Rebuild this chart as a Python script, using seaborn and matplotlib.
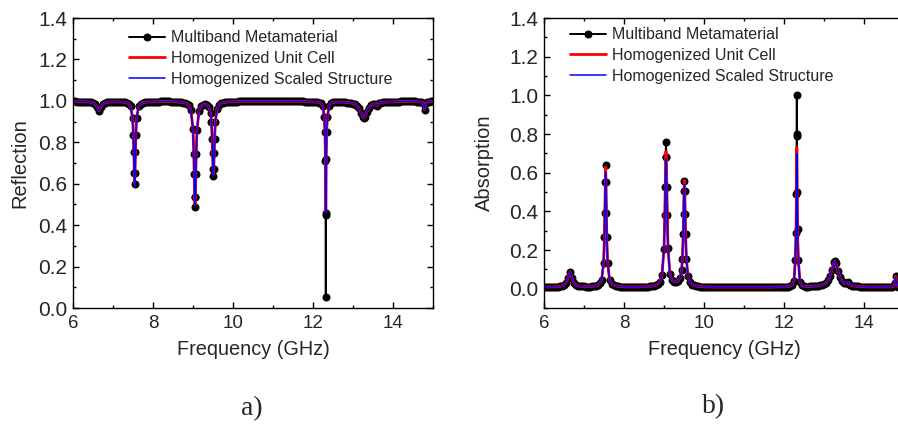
import matplotlib
matplotlib.use("Agg")
import matplotlib.pyplot as plt
from matplotlib.ticker import MultipleLocator
import seaborn as sns

# frequency samples (GHz), denser around the resonances
freq = [6.0, 6.05, 6.1, 6.15, 6.2, 6.25, 6.3, 6.35, 6.4, 6.45,
        6.5, 6.55, 6.6, 6.65, 6.7, 6.75, 6.8,
        6.85, 6.9, 6.95, 7.0, 7.05, 7.1, 7.15, 7.2, 7.25, 7.3, 7.35, 7.4, 7.44,
        7.49, 7.51, 7.52, 7.53, 7.54, 7.55, 7.56, 7.57, 7.59, 7.64,
        7.7, 7.75, 7.8, 7.85, 7.9, 7.95, 8.0, 8.05, 8.1, 8.15, 8.2, 8.25, 8.3,
        8.35, 8.4, 8.45, 8.5, 8.55, 8.6, 8.65, 8.7, 8.75, 8.8, 8.85, 8.9, 8.95,
        9.0, 9.02, 9.03, 9.04, 9.05, 9.06, 9.07, 9.08, 9.1,
        9.15, 9.2, 9.25, 9.3, 9.35, 9.4, 9.44,
        9.46, 9.48, 9.49, 9.5, 9.51, 9.52, 9.53, 9.54, 9.56,
        9.6, 9.65, 9.7, 9.75, 9.8, 9.85, 9.9, 9.95, 10.0,
        10.05, 10.1, 10.15, 10.2, 10.25, 10.3, 10.35, 10.4, 10.45, 10.5,
        10.55, 10.6, 10.65, 10.7, 10.75, 10.8, 10.85, 10.9, 10.95, 11.0,
        11.05, 11.1, 11.15, 11.2, 11.25, 11.3, 11.35, 11.4, 11.45, 11.5,
        11.55, 11.6, 11.65, 11.7, 11.75, 11.8, 11.85, 11.9, 11.95, 12.0,
        12.05, 12.1, 12.15, 12.2, 12.25,
        12.28, 12.3, 12.31, 12.315, 12.32, 12.325, 12.33, 12.34, 12.36,
        12.4, 12.45, 12.5, 12.55, 12.6, 12.65, 12.7, 12.75, 12.8, 12.85, 12.9, 12.95, 13.0,
        13.05, 13.1, 13.15, 13.2, 13.25, 13.27, 13.3, 13.35, 13.4, 13.45, 13.5, 13.55,
        13.58, 13.6, 13.62, 13.65, 13.7,
        13.75, 13.8, 13.85, 13.9, 13.95, 14.0, 14.05, 14.1, 14.15, 14.2,
        14.25, 14.3, 14.35, 14.4, 14.45, 14.5, 14.55, 14.6, 14.65, 14.7,
        14.75, 14.77, 14.79, 14.81, 14.85, 14.9, 14.95, 15.0]

# a) reflection
refl_meta = [0.997, 0.997, 0.996, 0.996, 0.996, 0.996, 0.996, 0.995, 0.995, 0.993,
             0.991, 0.985, 0.970, 0.952, 0.970, 0.985, 0.991,
             0.993, 0.994, 0.995, 0.995, 0.995, 0.995, 0.995, 0.994, 0.994, 0.993, 0.990, 0.985, 0.973,
             0.917, 0.833, 0.753, 0.652, 0.597, 0.652, 0.753, 0.833, 0.917, 0.973,
             0.987, 0.991, 0.993, 0.994, 0.995, 0.995, 0.996, 0.996, 0.996, 0.996, 0.997, 0.997, 0.997,
             0.997, 0.997, 0.996, 0.996, 0.996, 0.995, 0.994, 0.993, 0.992, 0.990, 0.986, 0.978, 0.955,
             0.862, 0.742, 0.645, 0.538, 0.487, 0.538, 0.645, 0.742, 0.860,
             0.952, 0.975, 0.981, 0.983, 0.980, 0.968, 0.940,
             0.900, 0.817, 0.749, 0.673, 0.637, 0.673, 0.749, 0.817, 0.900,
             0.961, 0.981, 0.988, 0.991, 0.993, 0.994, 0.995, 0.996, 0.996,
             0.996, 0.996, 0.997, 0.997, 0.997, 0.997, 0.997, 0.997, 0.997, 0.997,
             0.997, 0.997, 0.997, 0.997, 0.997, 0.997, 0.997, 0.997, 0.997, 0.997,
             0.997, 0.997, 0.997, 0.997, 0.997, 0.997, 0.997, 0.997, 0.997, 0.997,
             0.997, 0.997, 0.997, 0.997, 0.997, 0.996, 0.996, 0.996, 0.995, 0.995,
             0.995, 0.994, 0.992, 0.988, 0.973,
             0.920, 0.850, 0.710, 0.450, 0.055, 0.460, 0.720, 0.850, 0.920,
             0.977, 0.989, 0.993, 0.994, 0.994, 0.994, 0.994, 0.994, 0.993, 0.992, 0.991, 0.990, 0.987,
             0.983, 0.976, 0.964, 0.943, 0.920, 0.917, 0.924, 0.948, 0.967, 0.978, 0.984, 0.985,
             0.982, 0.975, 0.983, 0.990, 0.992,
             0.993, 0.994, 0.994, 0.995, 0.995, 0.995, 0.996, 0.996, 0.996, 0.997,
             0.997, 0.997, 0.997, 0.997, 0.997, 0.997, 0.997, 0.996, 0.996, 0.995,
             0.992, 0.983, 0.957, 0.983, 0.995, 0.996, 0.997, 0.997]

refl_cell = [0.997, 0.997, 0.996, 0.996, 0.996, 0.996, 0.996, 0.995, 0.995, 0.993,
             0.991, 0.985, 0.970, 0.952, 0.970, 0.985, 0.991,
             0.993, 0.994, 0.995, 0.995, 0.995, 0.995, 0.995, 0.994, 0.994, 0.993, 0.990, 0.985, 0.973,
             0.917, 0.833, 0.753, 0.655, 0.600, 0.655, 0.753, 0.833, 0.917, 0.973,
             0.987, 0.991, 0.993, 0.994, 0.995, 0.995, 0.996, 0.996, 0.996, 0.996, 0.997, 0.997, 0.997,
             0.997, 0.997, 0.996, 0.996, 0.996, 0.995, 0.994, 0.993, 0.992, 0.990, 0.986, 0.978, 0.955,
             0.862, 0.742, 0.645, 0.545, 0.500, 0.545, 0.645, 0.742, 0.860,
             0.952, 0.975, 0.981, 0.983, 0.980, 0.968, 0.940,
             0.900, 0.817, 0.749, 0.675, 0.645, 0.675, 0.749, 0.817, 0.900,
             0.961, 0.981, 0.988, 0.991, 0.993, 0.994, 0.995, 0.996, 0.996,
             0.996, 0.996, 0.997, 0.997, 0.997, 0.997, 0.997, 0.997, 0.997, 0.997,
             0.997, 0.997, 0.997, 0.997, 0.997, 0.997, 0.997, 0.997, 0.997, 0.997,
             0.997, 0.997, 0.997, 0.997, 0.997, 0.997, 0.997, 0.997, 0.997, 0.997,
             0.997, 0.997, 0.997, 0.997, 0.997, 0.996, 0.996, 0.996, 0.995, 0.995,
             0.995, 0.994, 0.992, 0.988, 0.973,
             0.920, 0.850, 0.720, 0.580, 0.465, 0.580, 0.720, 0.850, 0.920,
             0.977, 0.989, 0.993, 0.994, 0.994, 0.994, 0.994, 0.994, 0.993, 0.992, 0.991, 0.990, 0.987,
             0.983, 0.976, 0.964, 0.943, 0.920, 0.917, 0.924, 0.948, 0.967, 0.978, 0.984, 0.985,
             0.982, 0.975, 0.983, 0.990, 0.992,
             0.993, 0.994, 0.994, 0.995, 0.995, 0.995, 0.996, 0.996, 0.996, 0.997,
             0.997, 0.997, 0.997, 0.997, 0.997, 0.997, 0.997, 0.996, 0.996, 0.995,
             0.992, 0.983, 0.957, 0.983, 0.995, 0.996, 0.997, 0.997]

refl_scaled = [0.997, 0.997, 0.996, 0.996, 0.996, 0.996, 0.996, 0.995, 0.995, 0.993,
               0.991, 0.985, 0.970, 0.952, 0.970, 0.985, 0.991,
               0.993, 0.994, 0.995, 0.995, 0.995, 0.995, 0.995, 0.994, 0.994, 0.993, 0.990, 0.985, 0.973,
               0.917, 0.833, 0.753, 0.645, 0.585, 0.645, 0.753, 0.833, 0.917, 0.973,
               0.987, 0.991, 0.993, 0.994, 0.995, 0.995, 0.996, 0.996, 0.996, 0.996, 0.997, 0.997, 0.997,
               0.997, 0.997, 0.996, 0.996, 0.996, 0.995, 0.994, 0.993, 0.992, 0.990, 0.986, 0.978, 0.955,
               0.862, 0.742, 0.645, 0.545, 0.500, 0.545, 0.645, 0.742, 0.860,
               0.952, 0.975, 0.981, 0.983, 0.980, 0.968, 0.940,
               0.900, 0.817, 0.749, 0.670, 0.635, 0.670, 0.749, 0.817, 0.900,
               0.961, 0.981, 0.988, 0.991, 0.993, 0.994, 0.995, 0.996, 0.996,
               0.996, 0.996, 0.997, 0.997, 0.997, 0.997, 0.997, 0.997, 0.997, 0.997,
               0.997, 0.997, 0.997, 0.997, 0.997, 0.997, 0.997, 0.997, 0.997, 0.997,
               0.997, 0.997, 0.997, 0.997, 0.997, 0.997, 0.997, 0.997, 0.997, 0.997,
               0.997, 0.997, 0.997, 0.997, 0.997, 0.996, 0.996, 0.996, 0.995, 0.995,
               0.995, 0.994, 0.992, 0.988, 0.973,
               0.920, 0.850, 0.720, 0.575, 0.460, 0.575, 0.720, 0.850, 0.920,
               0.977, 0.989, 0.993, 0.994, 0.994, 0.994, 0.994, 0.994, 0.993, 0.992, 0.991, 0.990, 0.987,
               0.983, 0.976, 0.964, 0.943, 0.920, 0.917, 0.924, 0.948, 0.967, 0.978, 0.984, 0.985,
               0.982, 0.975, 0.983, 0.990, 0.992,
               0.993, 0.994, 0.994, 0.995, 0.995, 0.995, 0.996, 0.996, 0.996, 0.997,
               0.997, 0.997, 0.997, 0.997, 0.997, 0.997, 0.997, 0.996, 0.996, 0.995,
               0.992, 0.983, 0.955, 0.983, 0.995, 0.996, 0.997, 0.997]

# b) absorption
abs_meta = [0.009, 0.009, 0.009, 0.009, 0.009, 0.010, 0.010, 0.011, 0.012, 0.015,
            0.019, 0.029, 0.055, 0.088, 0.055, 0.029, 0.019,
            0.015, 0.013, 0.012, 0.012, 0.011, 0.011, 0.011, 0.012, 0.013, 0.015, 0.019, 0.028, 0.045,
            0.134, 0.266, 0.392, 0.551, 0.638, 0.551, 0.392, 0.266, 0.134, 0.045,
            0.023, 0.017, 0.014, 0.012, 0.011, 0.010, 0.010, 0.009, 0.009, 0.009, 0.009, 0.009, 0.009,
            0.009, 0.010, 0.010, 0.010, 0.010, 0.011, 0.012, 0.014, 0.015, 0.019, 0.025, 0.037, 0.070,
            0.207, 0.383, 0.526, 0.683, 0.758, 0.683, 0.526, 0.383, 0.210,
            0.074, 0.045, 0.036, 0.035, 0.039, 0.055, 0.097,
            0.154, 0.283, 0.388, 0.503, 0.558, 0.503, 0.388, 0.283, 0.154,
            0.063, 0.032, 0.021, 0.017, 0.014, 0.012, 0.011, 0.010, 0.010,
            0.009, 0.009, 0.009, 0.009, 0.008, 0.008, 0.008, 0.008, 0.008, 0.008,
            0.008, 0.008, 0.008, 0.008, 0.008, 0.008, 0.008, 0.008, 0.008, 0.008,
            0.008, 0.008, 0.008, 0.008, 0.008, 0.008, 0.008, 0.008, 0.008, 0.008,
            0.008, 0.008, 0.008, 0.008, 0.009, 0.009, 0.009, 0.009, 0.010, 0.010,
            0.010, 0.011, 0.014, 0.019, 0.040,
            0.150, 0.290, 0.490, 0.800, 1.000, 0.790, 0.500, 0.310, 0.150,
            0.032, 0.017, 0.013, 0.011, 0.011, 0.012, 0.012, 0.013, 0.014, 0.015, 0.017, 0.020, 0.024,
            0.031, 0.043, 0.063, 0.099, 0.138, 0.143, 0.132, 0.090, 0.058, 0.040, 0.029, 0.027,
            0.028, 0.034, 0.026, 0.019, 0.016,
            0.014, 0.012, 0.012, 0.011, 0.011, 0.010, 0.010, 0.010, 0.009, 0.009,
            0.009, 0.009, 0.009, 0.009, 0.009, 0.009, 0.009, 0.009, 0.009, 0.009,
            0.015, 0.028, 0.063, 0.028, 0.011, 0.010, 0.009, 0.009]

abs_cell = [0.009, 0.009, 0.009, 0.009, 0.009, 0.010, 0.010, 0.011, 0.012, 0.015,
            0.019, 0.029, 0.055, 0.088, 0.055, 0.029, 0.019,
            0.015, 0.013, 0.012, 0.012, 0.011, 0.011, 0.011, 0.012, 0.013, 0.015, 0.019, 0.028, 0.045,
            0.134, 0.266, 0.392, 0.545, 0.630, 0.545, 0.392, 0.266, 0.134, 0.045,
            0.023, 0.017, 0.014, 0.012, 0.011, 0.010, 0.010, 0.009, 0.009, 0.009, 0.009, 0.009, 0.009,
            0.009, 0.010, 0.010, 0.010, 0.010, 0.011, 0.012, 0.014, 0.015, 0.019, 0.025, 0.037, 0.070,
            0.207, 0.383, 0.526, 0.640, 0.710, 0.640, 0.526, 0.383, 0.210,
            0.074, 0.045, 0.036, 0.035, 0.039, 0.055, 0.097,
            0.154, 0.283, 0.388, 0.500, 0.560, 0.500, 0.388, 0.283, 0.154,
            0.063, 0.032, 0.021, 0.017, 0.014, 0.012, 0.011, 0.010, 0.010,
            0.009, 0.009, 0.009, 0.009, 0.008, 0.008, 0.008, 0.008, 0.008, 0.008,
            0.008, 0.008, 0.008, 0.008, 0.008, 0.008, 0.008, 0.008, 0.008, 0.008,
            0.008, 0.008, 0.008, 0.008, 0.008, 0.008, 0.008, 0.008, 0.008, 0.008,
            0.008, 0.008, 0.008, 0.008, 0.009, 0.009, 0.009, 0.009, 0.010, 0.010,
            0.010, 0.011, 0.014, 0.019, 0.040,
            0.140, 0.280, 0.470, 0.620, 0.730, 0.620, 0.470, 0.280, 0.140,
            0.032, 0.017, 0.013, 0.011, 0.011, 0.012, 0.012, 0.013, 0.014, 0.015, 0.017, 0.020, 0.024,
            0.031, 0.043, 0.063, 0.099, 0.138, 0.143, 0.132, 0.090, 0.058, 0.040, 0.029, 0.027,
            0.028, 0.034, 0.026, 0.019, 0.016,
            0.014, 0.012, 0.012, 0.011, 0.011, 0.010, 0.010, 0.010, 0.009, 0.009,
            0.009, 0.009, 0.009, 0.009, 0.009, 0.009, 0.009, 0.009, 0.009, 0.009,
            0.015, 0.028, 0.063, 0.028, 0.011, 0.010, 0.009, 0.009]

abs_scaled = [0.009, 0.009, 0.009, 0.009, 0.009, 0.010, 0.010, 0.011, 0.012, 0.015,
              0.019, 0.029, 0.055, 0.088, 0.055, 0.029, 0.019,
              0.015, 0.013, 0.012, 0.012, 0.011, 0.011, 0.011, 0.012, 0.013, 0.015, 0.019, 0.028, 0.045,
              0.134, 0.266, 0.392, 0.530, 0.600, 0.530, 0.392, 0.266, 0.134, 0.045,
              0.023, 0.017, 0.014, 0.012, 0.011, 0.010, 0.010, 0.009, 0.009, 0.009, 0.009, 0.009, 0.009,
              0.009, 0.010, 0.010, 0.010, 0.010, 0.011, 0.012, 0.014, 0.015, 0.019, 0.025, 0.037, 0.070,
              0.207, 0.383, 0.526, 0.610, 0.670, 0.610, 0.526, 0.383, 0.210,
              0.074, 0.045, 0.036, 0.035, 0.039, 0.055, 0.097,
              0.154, 0.283, 0.388, 0.480, 0.540, 0.480, 0.388, 0.283, 0.154,
              0.063, 0.032, 0.021, 0.017, 0.014, 0.012, 0.011, 0.010, 0.010,
              0.009, 0.009, 0.009, 0.009, 0.008, 0.008, 0.008, 0.008, 0.008, 0.008,
              0.008, 0.008, 0.008, 0.008, 0.008, 0.008, 0.008, 0.008, 0.008, 0.008,
              0.008, 0.008, 0.008, 0.008, 0.008, 0.008, 0.008, 0.008, 0.008, 0.008,
              0.008, 0.008, 0.008, 0.008, 0.009, 0.009, 0.009, 0.009, 0.010, 0.010,
              0.010, 0.011, 0.014, 0.019, 0.040,
              0.140, 0.270, 0.450, 0.600, 0.700, 0.600, 0.450, 0.270, 0.140,
              0.032, 0.017, 0.013, 0.011, 0.011, 0.012, 0.012, 0.013, 0.014, 0.015, 0.017, 0.020, 0.024,
              0.031, 0.043, 0.063, 0.099, 0.138, 0.143, 0.132, 0.090, 0.058, 0.040, 0.029, 0.027,
              0.028, 0.034, 0.026, 0.019, 0.016,
              0.014, 0.012, 0.012, 0.011, 0.011, 0.010, 0.010, 0.010, 0.009, 0.009,
              0.009, 0.009, 0.009, 0.009, 0.009, 0.009, 0.009, 0.009, 0.009, 0.009,
              0.015, 0.028, 0.058, 0.028, 0.011, 0.010, 0.009, 0.009]

labels = ["Multiband Metamaterial", "Homogenized Unit Cell", "Homogenized Scaled Structure"]

sns.set_style("ticks")
plt.rcParams["font.family"] = ["Liberation Sans", "DejaVu Sans"]

fig = plt.figure(figsize=(8.98, 4.25), dpi=100)
ax1 = fig.add_axes([73 / 898, 117 / 425, 360 / 898, 290 / 425])
ax2 = fig.add_axes([544 / 898, 117 / 425, 360 / 898, 290 / 425])


def draw(ax, meta, cell, scaled):
    sns.lineplot(x=freq, y=meta, ax=ax, color="black", linewidth=1.4, marker="o",
                 markersize=5, markeredgecolor="black", estimator=None, label=labels[0])
    sns.lineplot(x=freq, y=cell, ax=ax, color="red", linewidth=2.0,
                 estimator=None, label=labels[1])
    sns.lineplot(x=freq, y=scaled, ax=ax, color="blue", linewidth=1.1,
                 estimator=None, label=labels[2])


draw(ax1, refl_meta, refl_cell, refl_scaled)
draw(ax2, abs_meta, abs_cell, abs_scaled)

ax1.set_ylim(0, 1.4)
ax2.set_ylim(-0.1, 1.4)
ax1.set_ylabel("Reflection", fontsize=14.5, labelpad=6)
ax2.set_ylabel("Absorption", fontsize=14.5, labelpad=11)

for ax in (ax1, ax2):
    ax.set_xlim(6, 15)
    ax.set_xticks([6, 8, 10, 12, 14])
    ax.xaxis.set_minor_locator(MultipleLocator(1))
    ax.set_yticks([0.0, 0.2, 0.4, 0.6, 0.8, 1.0, 1.2, 1.4])
    ax.yaxis.set_minor_locator(MultipleLocator(0.1))
    ax.tick_params(which="both", direction="in", top=True, right=True, width=1, color="black")
    ax.tick_params(which="major", length=4)
    ax.tick_params(which="minor", length=2.5)
    ax.tick_params(axis="x", labelsize=13.5, pad=5)
    ax.tick_params(axis="y", labelsize=15, pad=4)
    ax.set_xlabel("Frequency (GHz)", fontsize=14.3, labelpad=6)
    for s in ax.spines.values():
        s.set_linewidth(1)
        s.set_color("black")

ax1.legend(loc="upper left", bbox_to_anchor=(0.155, 0.958), frameon=False, fontsize=11.5,
           handlelength=2.25, handletextpad=0.4, labelspacing=0.36, borderpad=0, borderaxespad=0)
ax2.legend(loc="upper left", bbox_to_anchor=(0.072, 0.968), frameon=False, fontsize=11.5,
           handlelength=2.25, handletextpad=0.4, labelspacing=0.36, borderpad=0, borderaxespad=0)

fig.text(252 / 898, 1 - 409 / 425, "a)", ha="center", va="center", fontsize=20, family="Liberation Serif")
fig.text(714 / 898, 1 - 407 / 425, "b)", ha="center", va="center", fontsize=20, family="Liberation Serif")

fig.savefig("out.png", dpi=100)
